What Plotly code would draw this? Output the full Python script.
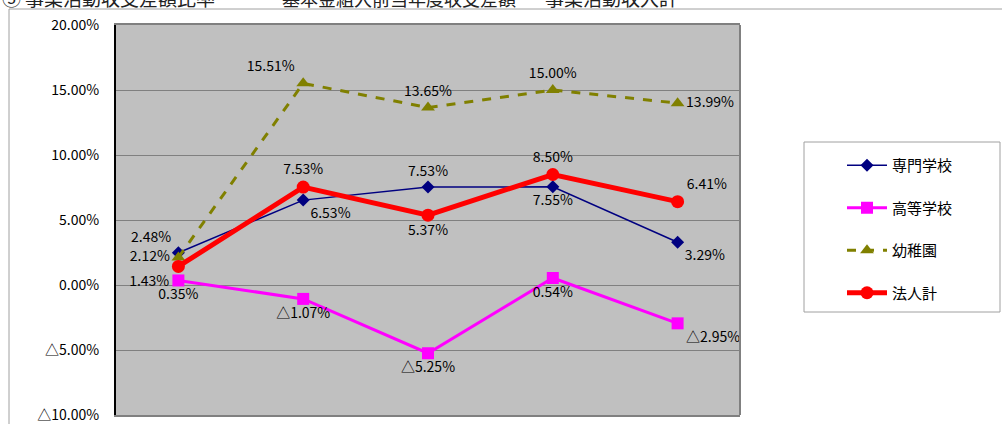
import plotly.graph_objects as go

categories = ["1年度", "2年度", "3年度", "4年度", "5年度"]
series_names = ["専門学校", "高等学校", "幼稚園", "法人計"]
senmon = [2.48, 6.53, 7.53, 7.55, 3.29]
koutou = [0.35, -1.07, -5.25, 0.54, -2.95]
youchien = [2.12, 15.51, 13.65, 15.00, 13.99]
houjin = [1.43, 7.53, 5.37, 8.50, 6.41]
y_tickvals = [-10, -5, 0, 5, 10, 15, 20]
y_ticktext = ["△10.00%", "△5.00%", "0.00%", "5.00%", "10.00%", "15.00%", "20.00%"]

FONT = "Noto Sans CJK JP"


def fmt(v):
    return ("△" if v < 0 else "") + f"{abs(v):.2f}%"


W, H = 1002, 424
L, R, T, B = 116, 740, 25, 415


def px(x):
    return (x - L) / (R - L)


def py(y):
    return (B - y) / (B - T)


styles = [
    dict(color="#000080", width=1.5, dash="solid", symbol="diamond", size=10,
         pos=["top left", "bottom right", "top center", "bottom center", "bottom right"]),
    dict(color="#FF00FF", width=3, dash="solid", symbol="square", size=12,
         pos=["bottom center", "bottom center", "bottom center", "bottom center", "bottom right"]),
    dict(color="#808000", width=3, dash="dash", symbol="triangle-up", size=12,
         pos=["middle left", "top left", "top center", "top center", "middle right"]),
    dict(color="#FF0000", width=5, dash="solid", symbol="circle", size=13,
         pos=["bottom left", "top center", "bottom center", "top center", "top right"]),
]

fig = go.Figure()
for name, vals, st in zip(series_names, [senmon, koutou, youchien, houjin], styles):
    fig.add_trace(go.Scatter(
        x=categories, y=vals, name=name, legendgroup=name,
        mode="lines+markers+text",
        text=[fmt(v) for v in vals], textposition=st["pos"],
        textfont=dict(family=FONT, size=14, color="#000000"),
        line=dict(color=st["color"], width=st["width"], dash=st["dash"]),
        marker=dict(symbol=st["symbol"], size=st["size"], color=st["color"]),
        cliponaxis=False,
    ))

shapes = [
    dict(type="rect", xref="paper", yref="paper", x0=px(9), x1=px(1030), y0=py(440), y1=py(9),
         line=dict(color="#A0A0A0", width=1), layer="below"),
    dict(type="line", xref="paper", yref="paper", x0=1, x1=1, y0=0, y1=1,
         line=dict(color="#808080", width=2)),
    dict(type="rect", xref="paper", yref="paper", x0=px(804), x1=px(1000), y0=py(312), y1=py(142),
         line=dict(color="#A0A0A0", width=1), fillcolor="white", layer="below"),
]

annotations = [
    dict(text="⑤", x=px(0), y=py(13), xanchor="left", yanchor="bottom", size=19),
    dict(text="事業活動収支差額比率", x=px(23), y=py(13), xanchor="left", yanchor="bottom", size=19),
    dict(text="基本金組入前当年度収支差額", x=px(280), y=py(13), xanchor="left", yanchor="bottom", size=18),
    dict(text="事業活動収入計", x=px(543), y=py(13), xanchor="left", yanchor="bottom", size=19),
]
for a in annotations:
    sz = a.pop("size")
    a.update(xref="paper", yref="paper", showarrow=False,
             font=dict(family=FONT, size=sz, color="#222222"))

fig.update_layout(
    width=W, height=H,
    margin=dict(l=L, r=W - R, t=T, b=H - B, pad=0, autoexpand=False),
    paper_bgcolor="white", plot_bgcolor="#C0C0C0",
    font=dict(family=FONT, size=14, color="#000000"),
    showlegend=True,
    legend=dict(x=px(842), y=py(149), xanchor="left", yanchor="top",
                bgcolor="rgba(0,0,0,0)", borderwidth=0,
                font=dict(family=FONT, size=15, color="#000000"),
                traceorder="grouped", tracegroupgap=20, itemwidth=40),
    shapes=shapes,
    annotations=annotations,
)
fig.update_xaxes(type="category", range=[-0.5, 4.5], showgrid=False, showticklabels=False,
                 showline=True, linecolor="#808080", linewidth=2, mirror=True, ticks="",
                 automargin=False)
fig.update_yaxes(range=[-10, 20], tickvals=y_tickvals, ticktext=y_ticktext,
                 showgrid=True, gridcolor="#808080", gridwidth=1, zeroline=False,
                 showline=True, linecolor="#000000", linewidth=2, ticks="",
                 ticklabelstandoff=12, automargin=False,
                 tickfont=dict(family=FONT, size=14, color="#000000"))

fig.write_html("out.html", config={"displayModeBar": False},
               post_script="document.body.style.margin='0';")
